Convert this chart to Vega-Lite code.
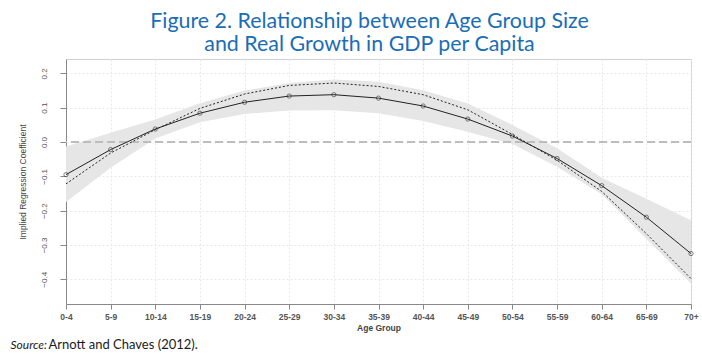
{
  "$schema": "https://vega.github.io/schema/vega-lite/v6.json",
  "autosize": {"type": "none"},
  "width": 625,
  "height": 245,
  "padding": {"left": 66, "top": 59, "right": 11, "bottom": 53},
  "background": "white",
  "title": {
    "text": ["Figure 2. Relationship between Age Group Size", "and Real Growth in GDP per Capita"],
    "font": "Lato",
    "fontSize": 21.4,
    "fontWeight": "normal",
    "color": "#1a6db4",
    "anchor": "middle",
    "frame": "group",
    "dx": -9,
    "offset": 4,
    "lineHeight": 23
  },
  "config": {
    "view": {"stroke": "#d0d0d0", "strokeWidth": 1},
    "axis": {
      "labelFont": "Liberation Sans",
      "titleFont": "Liberation Sans",
      "labelColor": "#555",
      "titleColor": "#444",
      "domainColor": "#888",
      "tickColor": "#888",
      "gridColor": "#e2e2e2",
      "gridDash": [2, 2],
      "gridWidth": 0.8
    }
  },
  "data": {
    "values": [
      {"age": "0-4", "s": -0.095, "d": -0.122, "lo": -0.175, "hi": -0.013},
      {"age": "5-9", "s": -0.022, "d": -0.032, "lo": -0.075, "hi": 0.027},
      {"age": "10-14", "s": 0.038, "d": 0.036, "lo": 0.010, "hi": 0.066},
      {"age": "15-19", "s": 0.084, "d": 0.098, "lo": 0.058, "hi": 0.113},
      {"age": "20-24", "s": 0.116, "d": 0.140, "lo": 0.082, "hi": 0.150},
      {"age": "25-29", "s": 0.134, "d": 0.165, "lo": 0.092, "hi": 0.172},
      {"age": "30-34", "s": 0.138, "d": 0.172, "lo": 0.093, "hi": 0.182},
      {"age": "35-39", "s": 0.128, "d": 0.162, "lo": 0.084, "hi": 0.176},
      {"age": "40-44", "s": 0.105, "d": 0.138, "lo": 0.061, "hi": 0.151},
      {"age": "45-49", "s": 0.067, "d": 0.094, "lo": 0.030, "hi": 0.112},
      {"age": "50-54", "s": 0.0175, "d": 0.022, "lo": -0.006, "hi": 0.050},
      {"age": "55-59", "s": -0.048, "d": -0.053, "lo": -0.072, "hi": -0.018},
      {"age": "60-64", "s": -0.127, "d": -0.144, "lo": -0.152, "hi": -0.104},
      {"age": "65-69", "s": -0.219, "d": -0.267, "lo": -0.282, "hi": -0.165},
      {"age": "70+", "s": -0.325, "d": -0.398, "lo": -0.412, "hi": -0.228}
    ]
  },
  "resolve": {"axis": {"x": "independent", "y": "independent"}},
  "layer": [
    {
      "mark": {"type": "area", "color": "#e6e6e6", "opacity": 1},
      "encoding": {
        "x": {
          "field": "age", "type": "ordinal", "sort": null,
          "scale": {"type": "point", "padding": 0},
          "axis": {
            "title": "Age Group", "labelAngle": 0, "labelFontSize": 8.5, "labelFontWeight": "bold",
            "titleFontSize": 8.5, "titleFontWeight": "bold", "titlePadding": 3,
            "tickSize": 5, "labelPadding": 3, "grid": true
          }
        },
        "y": {
          "field": "lo", "type": "quantitative",
          "scale": {"domain": [-0.472, 0.242], "nice": false, "zero": false},
          "axis": {
            "title": "Implied Regression Coefficient", "values": [-0.4, -0.3, -0.2, -0.1, 0, 0.1, 0.2],
            "format": ".1f", "labelAngle": 270, "labelAlign": "center", "labelBaseline": "bottom",
            "labelFontSize": 8, "labelPadding": 12, "tickSize": 6, "grid": true,
            "titleFontSize": 8.5, "titleFontWeight": "normal", "titlePadding": 13
          }
        },
        "y2": {"field": "hi"}
      }
    },
    {
      "mark": {"type": "rule", "color": "#bdbdbd", "strokeWidth": 1.5, "strokeDash": [8, 4]},
      "encoding": {"y": {"datum": 0, "type": "quantitative", "axis": null}}
    },
    {
      "mark": {"type": "line", "color": "#222", "strokeWidth": 1, "strokeDash": [2, 2]},
      "encoding": {
        "x": {
          "field": "age", "type": "ordinal", "sort": null,
          "axis": {
            "orient": "top", "labels": false, "ticks": false, "domain": false, "grid": false,
            "title": "Source:", "titleFont": "Lato", "titleFontStyle": "italic", "titleFontWeight": "normal",
            "titleFontSize": 12, "titleColor": "#1a1a1a", "titleAlign": "left", "titleAnchor": null,
            "titleBaseline": "alphabetic", "titleX": -56, "titleY": 289, "titleAngle": 0
          }
        },
        "y": {
          "field": "d", "type": "quantitative",
          "axis": {
            "orient": "right", "labels": false, "ticks": false, "domain": false, "grid": false,
            "title": "Arnott and Chaves (2012).", "titleFont": "Lato", "titleFontWeight": "normal",
            "titleFontSize": 13, "titleColor": "#1a1a1a", "titleAlign": "left", "titleAnchor": null,
            "titleBaseline": "alphabetic", "titleX": -643, "titleY": 289, "titleAngle": 0
          }
        }
      }
    },
    {
      "mark": {"type": "line", "color": "#222", "strokeWidth": 1},
      "encoding": {
        "x": {"field": "age", "type": "ordinal", "sort": null, "axis": null},
        "y": {"field": "s", "type": "quantitative", "axis": null}
      }
    },
    {
      "mark": {"type": "point", "shape": "circle", "filled": false, "color": "#333", "size": 18, "strokeWidth": 0.9},
      "encoding": {
        "x": {"field": "age", "type": "ordinal", "sort": null, "axis": null},
        "y": {"field": "s", "type": "quantitative", "axis": null}
      }
    }
  ]
}
